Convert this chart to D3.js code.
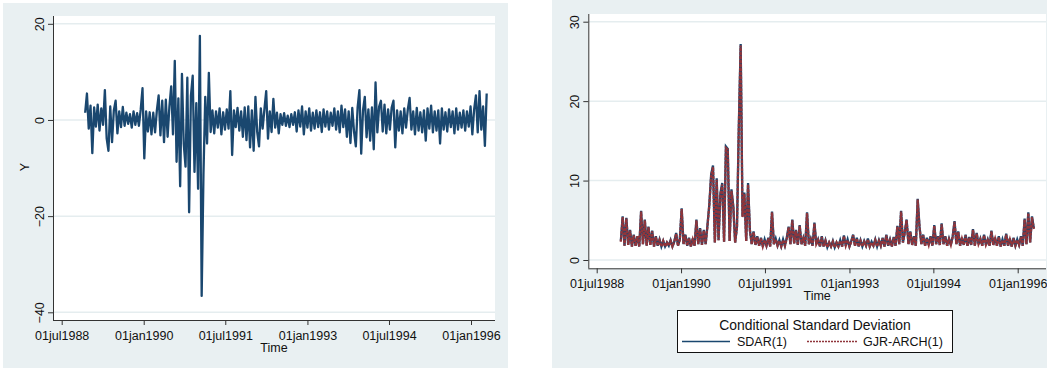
<!DOCTYPE html>
<html>
<head>
<meta charset="utf-8">
<script src="https://cdn.jsdelivr.net/npm/d3@7"></script>
<style>
  body { margin: 0; background: #fff; }
  svg { display: block; font-family: "Liberation Sans", Arial, sans-serif; }
  .tick-label { font-size: 12.5px; fill: #111; }
</style>
</head>
<body>
<svg id="chart" width="1047" height="369"></svg>
<script>
// observations are spaced every STEP_DAYS from START_DATE
const START_DATE = new Date(1988, 11, 5);
const STEP_DAYS = 12;

const X_TICKS = [
  new Date(1988, 6, 1),
  new Date(1990, 0, 1),
  new Date(1991, 6, 1),
  new Date(1993, 0, 1),
  new Date(1994, 6, 1),
  new Date(1996, 0, 1),
];
const Y_TICKS_LEFT = [-40, -20, 0, 20];
const Y_TICKS_RIGHT = [0, 10, 20, 30];

// Y (returns)
const yValues = [
  1.5, 5.5, -1.8, 3.0, -6.9, 2.6, -1.4, 3.2, -2.2, 2.4,
  -1.0, 6.2, -3.8, -6.4, 2.8, -4.6, 2.0, 4.0, -2.8, 1.8,
  -1.5, 2.7, -1.2, 1.5, -0.8, 1.2, -1.6, 1.8, -1.0, 1.4,
  -1.2, 2.2, 6.6, -8.0, 1.8, -2.4, 1.6, -3.0, 1.5, -2.6,
  2.0, 5.1, -3.2, 4.0, -4.6, 4.2, -3.5, 2.8, 7.0, -3.0,
  12.3, -8.7, 4.5, -13.8, 9.6, -5.0, -9.7, 8.8, -19.2, 5.0,
  9.2, -10.8, 3.5, -14.3, 17.5, -36.6, -11.3, 4.8, -4.9, 9.8,
  -2.5, 2.0, -2.8, 1.8, -1.6, 2.4, -3.0, 1.6, -2.0, 2.2,
  -1.8, 6.0, -7.3, 2.0, -1.5, 2.5, -2.2, 1.8, -3.5, 2.6,
  -4.2, 2.8, -5.7, 2.0, -6.4, 4.8, -2.6, -5.5, 2.4, -1.8,
  2.2, 6.0, -3.9, 1.8, -2.5, 4.4, -1.6, 1.5, -2.8, 1.2,
  -1.0, 1.4, -1.2, 0.9, -1.5, 1.2, -1.0, 1.6, -2.4, 2.0,
  -1.4, 2.8, -3.0, 1.8, -1.6, 2.4, -2.2, 1.5, -1.8, 2.0,
  -1.5, 1.6, -2.5, 2.2, -1.4, 1.8, -2.0, 1.5, -1.2, 2.4,
  -2.0, 1.8, -2.6, 3.0, -1.5, 2.2, -3.5, 1.8, -4.8, 2.5,
  -2.4, -5.5, 2.6, 6.2, -7.0, 2.0, 4.8, -3.6, 2.2, -4.3,
  2.6, -6.1, 7.8, -2.6, 2.8, 4.0, -2.4, 3.2, -2.8, 2.2,
  -2.0, 2.6, 4.0, -5.7, 2.0, -2.2, 1.8, -2.8, 2.4, -1.6,
  2.2, 4.6, -2.0, 1.8, -3.0, 2.5, -2.2, 1.6, -2.6, 2.0,
  -4.3, 2.4, -1.8, 3.0, -2.6, 1.8, -2.2, 2.0, -4.9, 2.4,
  -2.0, 1.6, -2.4, 2.2, -1.5, 1.8, -2.8, 2.4, -2.0, 1.5,
  -1.6, 2.0, -2.2, 1.8, -1.4, 2.8, -3.0, 2.2, 5.1, -2.6,
  6.0, -2.0, 2.8, -5.4, 5.5,
];

// conditional standard deviation, SDAR(1)
const sdarValues = [
  2.4, 5.5, 1.8, 5.3, 1.9, 3.8, 1.7, 3.2, 1.8, 3.0,
  1.7, 6.2, 2.0, 5.1, 1.8, 4.2, 1.9, 3.7, 1.7, 3.0,
  1.8, 2.6, 1.7, 2.4, 1.7, 2.2, 1.8, 2.5, 1.7, 2.3,
  3.4, 1.8, 2.6, 6.5, 2.0, 3.2, 1.8, 2.8, 1.7, 2.7,
  1.8, 5.1, 2.0, 4.0, 1.9, 3.8, 2.0, 4.4, 7.0, 10.8,
  11.9, 2.2, 10.3, 2.5, 8.4, 9.7, 2.3, 14.3, 14.0, 2.4,
  8.9, 6.8, 2.2, 4.2, 16.9, 27.2, 5.5, 8.5, 2.4, 9.7,
  3.8, 2.0, 3.6, 1.9, 3.0, 1.8, 2.8, 1.7, 2.6, 1.8,
  2.8, 1.7, 6.1, 2.0, 2.7, 1.8, 2.5, 1.7, 2.6, 1.8,
  2.8, 4.2, 2.0, 5.1, 2.1, 3.8, 1.9, 4.4, 2.0, 2.8,
  1.8, 6.0, 2.0, 2.7, 1.8, 4.7, 2.0, 2.6, 1.7, 3.0,
  1.7, 2.5, 1.6, 2.2, 1.7, 2.4, 1.6, 2.2, 1.7, 2.5,
  1.7, 3.1, 1.8, 2.6, 1.7, 2.4, 3.2, 1.8, 2.8, 1.7,
  2.5, 1.7, 2.4, 1.8, 2.7, 1.7, 2.3, 1.8, 2.6, 1.7,
  2.5, 1.8, 2.8, 1.7, 3.2, 1.8, 2.6, 1.7, 2.9, 1.8,
  4.3, 2.0, 6.2, 2.2, 3.5, 5.1, 2.0, 3.6, 1.9, 3.0,
  1.8, 7.7, 4.2, 2.0, 3.2, 1.8, 2.8, 1.9, 3.0, 1.8,
  4.4, 2.0, 3.0, 1.9, 4.6, 2.0, 3.0, 1.8, 2.7, 1.9,
  3.0, 4.9, 2.0, 3.6, 1.8, 2.8, 1.9, 3.2, 1.8, 2.9,
  1.9, 3.9, 1.8, 3.4, 2.0, 2.7, 1.8, 3.2, 1.9, 2.6,
  1.8, 3.7, 1.9, 2.8, 1.8, 3.0, 1.7, 2.6, 1.8, 3.3,
  1.8, 2.7, 1.7, 2.8, 1.8, 2.6, 1.9, 3.0, 1.8, 5.2,
  2.0, 6.0, 2.2, 5.5, 4.0,
];

// conditional standard deviation, GJR-ARCH(1)
const gjrValues = [
  2.3, 5.4, 1.8, 5.2, 1.9, 3.7, 1.7, 3.1, 1.8, 3.0,
  1.7, 6.1, 2.0, 5.0, 1.8, 4.1, 1.9, 3.6, 1.7, 2.9,
  1.8, 2.5, 1.7, 2.4, 1.7, 2.2, 1.8, 2.4, 1.7, 2.3,
  3.3, 1.8, 2.5, 6.4, 2.0, 3.1, 1.8, 2.7, 1.7, 2.6,
  1.8, 5.0, 2.0, 3.9, 1.9, 3.7, 2.0, 4.3, 6.9, 10.6,
  11.7, 2.2, 10.1, 2.5, 8.2, 9.5, 2.3, 14.1, 13.9, 2.4,
  8.7, 6.7, 2.2, 4.1, 16.7, 27.0, 5.4, 8.3, 2.4, 9.5,
  3.7, 2.0, 3.5, 1.9, 2.9, 1.8, 2.7, 1.7, 2.5, 1.8,
  2.7, 1.7, 6.0, 2.0, 2.6, 1.8, 2.4, 1.7, 2.5, 1.8,
  2.7, 4.1, 2.0, 5.0, 2.1, 3.7, 1.9, 4.3, 2.0, 2.7,
  1.8, 5.9, 2.0, 2.6, 1.8, 4.6, 2.0, 2.5, 1.7, 2.9,
  1.7, 2.4, 1.6, 2.2, 1.7, 2.3, 1.6, 2.2, 1.7, 2.4,
  1.7, 3.0, 1.8, 2.5, 1.7, 2.3, 3.1, 1.8, 2.7, 1.7,
  2.4, 1.7, 2.3, 1.8, 2.6, 1.7, 2.2, 1.8, 2.5, 1.7,
  2.4, 1.8, 2.7, 1.7, 3.1, 1.8, 2.5, 1.7, 2.8, 1.8,
  4.2, 2.0, 6.1, 2.2, 3.4, 5.0, 2.0, 3.5, 1.9, 2.9,
  1.8, 7.6, 4.1, 2.0, 3.1, 1.8, 2.7, 1.9, 2.9, 1.8,
  4.3, 2.0, 2.9, 1.9, 4.5, 2.0, 2.9, 1.8, 2.6, 1.9,
  2.9, 4.8, 2.0, 3.5, 1.8, 2.7, 1.9, 3.1, 1.8, 2.8,
  1.9, 3.8, 1.8, 3.3, 2.0, 2.6, 1.8, 3.1, 1.9, 2.5,
  1.8, 3.6, 1.9, 2.7, 1.8, 2.9, 1.7, 2.5, 1.8, 3.2,
  1.8, 2.6, 1.7, 2.7, 1.8, 2.5, 1.9, 2.9, 1.8, 5.1,
  2.0, 5.9, 2.2, 5.4, 3.9,
];

const LEGEND_TITLE = "Conditional Standard Deviation";
const LEGEND_LABELS = ["SDAR(1)", "GJR-ARCH(1)"];

const NAVY = "#1a476f";
const MAROON = "#90353b";
const BG = "#e9f0f2";
const GRID = "#e5edef";

const fmtDate = (d) => d3.timeFormat("%d%b%Y")(d).toLowerCase();
const dates = yValues.map((_, i) => d3.timeDay.offset(START_DATE, i * STEP_DAYS));

const svg = d3.select("#chart");

// one Stata-like panel: grey region, white plot area, gridlines, axes
function drawPanel(p) {
  const g = svg.append("g");

  g.append("rect")
    .attr("x", p.bg[0]).attr("y", p.bg[1])
    .attr("width", p.bg[2] - p.bg[0]).attr("height", p.bg[3] - p.bg[1])
    .attr("fill", BG);

  g.append("rect")
    .attr("x", p.left).attr("y", p.top)
    .attr("width", p.right - p.left).attr("height", p.bottom - p.top)
    .attr("fill", "#fff");

  const x = d3.scaleTime().domain([X_TICKS[0], X_TICKS[5]]).range(p.xRange);
  const y = d3.scaleLinear().domain(p.yDomain).range(p.yRange);

  // gridlines
  g.append("g")
    .selectAll("line")
    .data(p.yTicks)
    .join("line")
    .attr("x1", p.left).attr("x2", p.right)
    .attr("y1", (d) => y(d)).attr("y2", (d) => y(d))
    .attr("stroke", GRID)
    .attr("stroke-width", 1.5);

  // y axis
  const ya = g.append("g").attr("transform", `translate(${p.left},0)`)
    .call(d3.axisLeft(y).tickValues(p.yTicks).tickSize(5).tickPadding(9).tickSizeOuter(0));
  ya.select(".domain").attr("d", `M0.5,${p.top}V${p.bottom}`).attr("stroke", "#333");
  ya.selectAll(".tick line").attr("stroke", "#333");
  ya.selectAll(".tick text")
    .attr("class", "tick-label")
    .attr("x", null).attr("dy", null)
    .attr("text-anchor", "middle")
    .attr("transform", "translate(-9,0) rotate(-90)");

  // x axis
  const xa = g.append("g").attr("transform", `translate(0,${p.bottom})`)
    .call(d3.axisBottom(x).tickValues(X_TICKS).tickFormat(fmtDate).tickSize(5).tickSizeOuter(0));
  xa.select(".domain").attr("d", `M${p.left},0.5H${p.right}`).attr("stroke", "#333");
  xa.selectAll(".tick line").attr("stroke", "#333");
  xa.selectAll(".tick text")
    .attr("class", "tick-label")
    .attr("y", 19.5).attr("dy", null);

  ya.attr("font-family", null).attr("font-size", null);
  xa.attr("font-family", null).attr("font-size", null);

  g.append("text")
    .attr("x", (p.left + p.right) / 2)
    .attr("y", p.bottom + 32)
    .attr("text-anchor", "middle")
    .attr("font-size", 12.5)
    .attr("fill", "#111")
    .text("Time");

  return { g, x, y };
}

// left panel: Y
const L = drawPanel({
  bg: [3, 3, 508, 368],
  left: 53, right: 495, top: 16, bottom: 320,
  xRange: [61.7, 471],
  yDomain: [-40, 20], yRange: [312.3, 23.8],
  yTicks: Y_TICKS_LEFT,
});

L.g.append("text")
  .attr("transform", "translate(28.5,167) rotate(-90)")
  .attr("text-anchor", "middle")
  .attr("font-size", 12.5)
  .attr("fill", "#111")
  .text("Y");

L.g.append("path")
  .datum(yValues)
  .attr("fill", "none")
  .attr("stroke", NAVY)
  .attr("stroke-width", 2.3)
  .attr("stroke-linejoin", "round")
  .attr("d", d3.line().x((d, i) => L.x(dates[i])).y((d) => L.y(d)));

// right panel: conditional standard deviations
const R = drawPanel({
  bg: [552, 0, 1047, 368],
  left: 588.3, right: 1046, top: 14, bottom: 268.3,
  xRange: [596.7, 1017.7],
  yDomain: [0, 30], yRange: [260, 21.7],
  yTicks: Y_TICKS_RIGHT,
});

const lineR = d3.line().x((d, i) => R.x(dates[i])).y((d) => R.y(d));

R.g.append("path")
  .datum(sdarValues)
  .attr("fill", "none")
  .attr("stroke", NAVY)
  .attr("stroke-width", 2.3)
  .attr("d", lineR);

R.g.append("path")
  .datum(gjrValues)
  .attr("fill", "none")
  .attr("stroke", MAROON)
  .attr("stroke-width", 2.3)
  .attr("stroke-dasharray", "3,1")
  .attr("d", lineR);

// legend
const lg = R.g.append("g");
lg.append("rect")
  .attr("x", 677.5).attr("y", 310.5)
  .attr("width", 275).attr("height", 42)
  .attr("fill", "#fff")
  .attr("stroke", "#111")
  .attr("stroke-width", 1);

lg.append("text")
  .attr("x", 815).attr("y", 330)
  .attr("text-anchor", "middle")
  .attr("font-size", 13.9)
  .attr("fill", "#111")
  .text(LEGEND_TITLE);

const items = [
  { label: LEGEND_LABELS[0], color: NAVY, dash: null, x1: 682, x2: 730, tx: 737 },
  { label: LEGEND_LABELS[1], color: MAROON, dash: "2,1", x1: 807, x2: 857, tx: 863 },
];
items.forEach((it) => {
  lg.append("line")
    .attr("x1", it.x1).attr("x2", it.x2)
    .attr("y1", 341.5).attr("y2", 341.5)
    .attr("stroke", it.color)
    .attr("stroke-width", 1.6)
    .attr("stroke-dasharray", it.dash);
  lg.append("text")
    .attr("x", it.tx).attr("y", 346)
    .attr("font-size", 12.5)
    .attr("fill", "#111")
    .text(it.label);
});
</script>
</body>
</html>
